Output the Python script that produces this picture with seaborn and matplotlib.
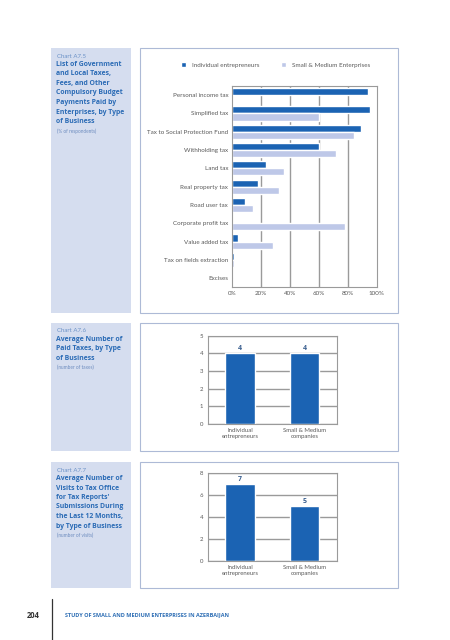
import numpy as np
import pandas as pd
import matplotlib
matplotlib.use("Agg")
import matplotlib.pyplot as plt
import seaborn as sns
from matplotlib.patches import Rectangle

# Data

taxes = ["Personal income tax", "Simplified tax", "Tax to Social Protection Fund",
         "Withholding tax", "Land tax", "Real property tax", "Road user tax",
         "Corporate profit tax", "Value added tax", "Tax on fields extraction", "Excises"]
ie_share = [94, 95.5, 89.5, 60, 23.5, 18, 9, 0.4, 4.5, 1.5, 0.5]
sme_share = [0, 60.5, 84, 72, 36, 32.5, 14.5, 78, 28.5, 1.5, 1]
series_names = ["Individual entrepreneurs", "Small & Medium Enterprises"]
pct_ticks = [0, 20, 40, 60, 80, 100]

biz_types = ["Individual\nentrepreneurs", "Small & Medium\ncompanies"]
avg_taxes = [4, 4]
avg_visits = [7, 5]

# colours / fonts
DARK = "#1b63b3"
LIGHT = "#bec8e8"
PANEL = "#d5ddef"
BORDER = "#adbad6"
TITLE = "#2c6cb6"
GRID = "#9a9a9a"
TXT = "#5a5a5a"

sns.set_style("white")
plt.rcParams["font.family"] = ["Lato", "DejaVu Sans"]

W, H = 450, 640
fig = plt.figure(figsize=(4.5, 6.4), dpi=100)


def rect(x0, y0, x1, y1):
    # pixel box (from top-left) -> figure fraction
    return [x0 / W, 1 - y1 / H, (x1 - x0) / W, (y1 - y0) / H]


def panel(y0, y1):
    fig.patches.append(Rectangle((51 / W, 1 - y1 / H), 80 / W, (y1 - y0) / H,
                                 transform=fig.transFigure, facecolor=PANEL,
                                 edgecolor="none", zorder=-10))
    fig.patches.append(Rectangle((140 / W, 1 - y1 / H), 258 / W, (y1 - y0) / H,
                                 transform=fig.transFigure, facecolor="white",
                                 edgecolor=BORDER, lw=0.8, zorder=-10))


def side_text(top, label, title, sub):
    fig.text(57 / W, 1 - top / H, label, fontsize=4.4, color="#6d93c8",
             va="center", ha="left")
    t = fig.text(56.5 / W, 1 - (top + 5) / H, title, fontsize=4.95, color=TITLE,
                 family=["Open Sans", "DejaVu Sans"], fontweight="bold",
                 va="top", ha="left", linespacing=1.5)
    # subtitle hangs just under the title block
    fig.add_artist(matplotlib.text.Annotation(
        sub, xy=(0, 0), xycoords=t, xytext=(0.4, -2.2), textcoords="offset points",
        fontsize=3.4, color="#6d8cbf", va="top", ha="left"))


panel(48, 313)
panel(323, 451)
panel(462, 588)

side_text(56, "Chart A7.5",
          "List of Government\nand Local Taxes,\nFees, and Other\nCompulsory Budget\n"
          "Payments Paid by\nEnterprises, by Type\nof Business",
          "(% of respondents)")
side_text(331, "Chart A7.6", "Average Number of\nPaid Taxes, by Type\nof Business",
          "(number of taxes)")
side_text(470, "Chart A7.7",
          "Average Number of\nVisits to Tax Office\nfor Tax Reports'\nSubmissions During\n"
          "the Last 12 Months,\nby Type of Business",
          "(number of visits)")

# ---- Chart A7.5: grouped horizontal bars
df1 = pd.DataFrame({
    "tax": taxes * 2,
    "share": ie_share + sme_share,
    "type": [series_names[0]] * len(taxes) + [series_names[1]] * len(taxes),
})
ax1 = fig.add_axes(rect(231.7, 86, 376.7, 287.3))
sns.barplot(data=df1, y="tax", x="share", hue="type", orient="h",
            palette=[DARK, LIGHT], width=0.78, ax=ax1, saturation=1)
ax1.set_xlim(0, 100)
ax1.set_xticks(pct_ticks)
ax1.set_xticklabels([f"{t}%" for t in pct_ticks])
ax1.set_xlabel("")
ax1.set_ylabel("")
for t in pct_ticks[1:-1]:
    ax1.axvline(t, color=GRID, lw=1.0, zorder=0)
for s in ax1.spines.values():
    s.set_color(GRID)
    s.set_linewidth(0.8)
ax1.tick_params(axis="both", length=0, labelsize=4.5, labelcolor=TXT, pad=2.5)
ax1.legend(loc="center", bbox_to_anchor=(275.5 / W, 1 - 65 / H),
           bbox_transform=fig.transFigure, ncol=2, frameon=False,
           fontsize=4.5, handlelength=0.85, handleheight=0.85,
           handletextpad=0.9, columnspacing=3.4, labelcolor=TXT)


# ---- Chart A7.6 / A7.7: simple vertical bars
def small_bars(y0, y1, values, ymax, step):
    ax = fig.add_axes(rect(207.7, y0, 336.7, y1))
    sns.barplot(x=biz_types, y=values, color=DARK, saturation=1,
                width=0.46, ax=ax)
    ax.set_xlim(-0.5, 1.5)
    ax.set_ylim(0, ymax)
    ax.set_yticks(np.arange(0, ymax + 1, step))
    ax.yaxis.grid(True, color=GRID, lw=1.0)
    ax.set_axisbelow(True)
    for s in ax.spines.values():
        s.set_color(GRID)
        s.set_linewidth(0.8)
    ax.tick_params(axis="both", length=0, labelsize=4.3, labelcolor=TXT, pad=3)
    for i, v in enumerate(values):
        ax.text(i, v + ymax * 0.015, str(v), ha="center", va="bottom",
                fontsize=5, fontweight="bold", color="#3a5f8f",
                family=["Open Sans", "DejaVu Sans"])
    return ax


small_bars(335.7, 424, avg_taxes, 5, 1)
small_bars(473, 561, avg_visits, 8, 2)

# ---- footer
fig.text(33 / W, 1 - 615 / H, "204", fontsize=5.5, fontweight="bold",
         color="#333333", ha="center", va="center",
         family=["Open Sans", "DejaVu Sans"])
fig.add_artist(plt.Line2D([52 / W, 52 / W], [0, 1 - 599 / H],
                          transform=fig.transFigure, color="#333333", lw=0.9))
fig.text(65 / W, 1 - 615 / H, "STUDY OF SMALL AND MEDIUM ENTERPRISES IN AZERBAIJAN",
         fontsize=4.0, fontweight="bold", color="#2f6fb5", ha="left", va="center",
         family=["Open Sans", "DejaVu Sans"])

fig.savefig("out.png", dpi=100, facecolor="white")
